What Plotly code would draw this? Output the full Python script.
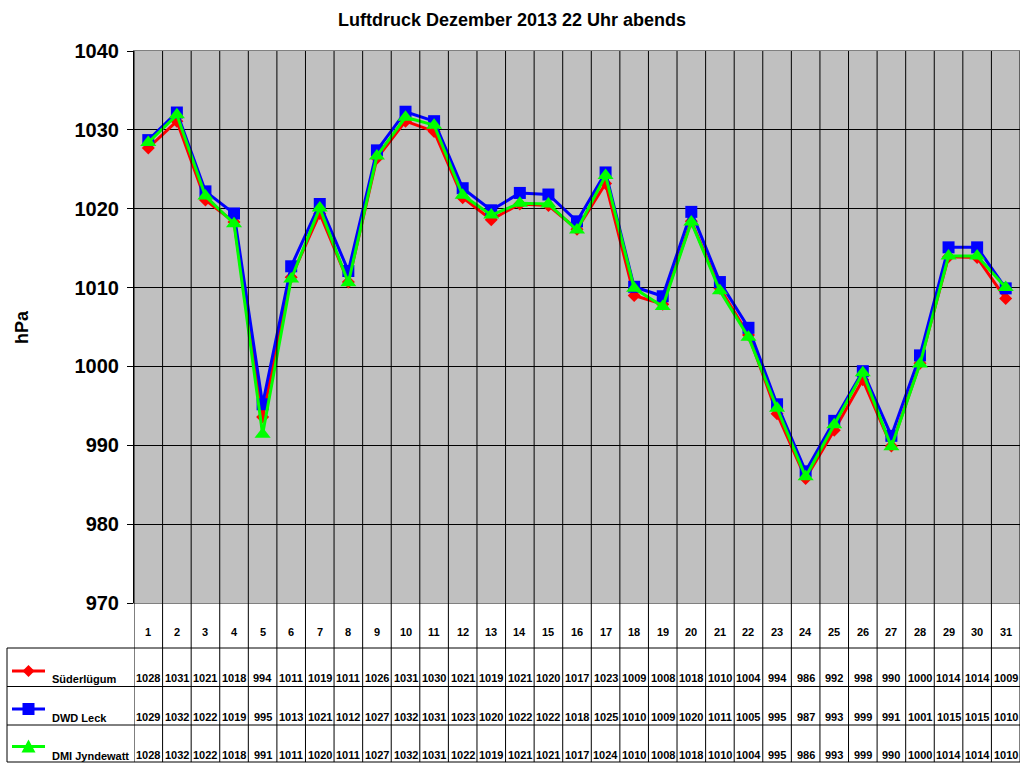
import plotly.graph_objects as go

days = list(range(1, 32))

suederluegum = [1027.7, 1031.1, 1021.1, 1018.3, 993.6, 1011.3, 1019.4, 1010.7, 1026.4, 1031.1,
                1029.8, 1021.4, 1018.6, 1020.6, 1020.4, 1017.4, 1023.2, 1009.0, 1007.9, 1018.4,
                1009.9, 1004.0, 994.0, 985.8, 991.9, 998.3, 989.9, 1000.4, 1013.9, 1013.8, 1008.6]
dwd_leck = [1028.7, 1032.2, 1022.2, 1019.4, 995.2, 1012.7, 1020.6, 1012.1, 1027.4, 1032.3,
            1031.1, 1022.6, 1019.8, 1022.0, 1021.8, 1018.4, 1024.6, 1010.1, 1008.9, 1019.6,
            1010.7, 1004.9, 995.2, 986.7, 993.1, 999.4, 991.2, 1001.4, 1015.1, 1015.1, 1009.9]
dmi_jyndewatt = [1028.4, 1031.9, 1021.6, 1018.1, 991.4, 1011.1, 1020.1, 1010.6, 1026.7, 1031.6,
                 1030.6, 1021.7, 1019.2, 1020.7, 1020.6, 1017.3, 1024.2, 1009.9, 1007.6, 1018.3,
                 1009.6, 1003.7, 994.7, 986.0, 992.6, 999.2, 989.8, 1000.3, 1014.0, 1014.0, 1010.0]

FONT = "Arial, Liberation Sans, sans-serif"

# figure geometry (pixels)
W, H = 1024, 768
L, R, T, B = 134, 4, 51, 165
PW, PH = W - L - R, H - T - B


def px_x(p):
    return (p - L) / PW


def px_y(p):
    return (H - B - p) / PH


series = [
    ("Süderlügum", suederluegum, "#FF0000", "diamond", 10),
    ("DWD Leck", dwd_leck, "#0000FF", "square", 12),
    ("DMI Jyndewatt", dmi_jyndewatt, "#00FF00", "triangle-up", 14),
]

fig = go.Figure()
for name, vals, col, sym, size in series:
    fig.add_trace(go.Scatter(
        x=days, y=vals, name=name, mode="lines+markers",
        line=dict(color=col, width=3),
        marker=dict(symbol=sym, size=size, color=col, line=dict(width=0)),
        showlegend=False, hoverinfo="skip",
    ))

shapes = []
ann = []

# table: vertical lines at column boundaries
table_bottom = px_y(762)
for k in range(len(days) + 1):
    shapes.append(dict(type="line", xref="x", yref="paper", x0=k + 0.5, x1=k + 0.5,
                       y0=table_bottom, y1=1, line=dict(color="black", width=1)))
# horizontal row lines
for p in [648, 686.5, 725, 762]:
    shapes.append(dict(type="line", xref="paper", yref="paper", x0=px_x(7), x1=1,
                       y0=px_y(p), y1=px_y(p), line=dict(color="black", width=1)))
shapes.append(dict(type="line", xref="paper", yref="paper", x0=px_x(7), x1=px_x(7),
                   y0=px_y(648), y1=table_bottom, line=dict(color="black", width=1)))

# day numbers
for d in days:
    ann.append(dict(x=d, y=px_y(632), xref="x", yref="paper", text=f"<b>{d}</b>",
                    xanchor="center", yanchor="middle",
                    showarrow=False, font=dict(size=11, color="black", family=FONT)))

row_text_y = [678, 716.5, 755]
row_line_y = [671, 709, 746.5]
for (name, vals, col, sym, size), ty, ly in zip(series, row_text_y, row_line_y):
    for d, v in zip(days, vals):
        ann.append(dict(x=d, y=px_y(ty), xref="x", yref="paper", text=f"<b>{round(v)}</b>",
                        xanchor="center", yanchor="middle",
                        showarrow=False, font=dict(size=11, color="black", family=FONT)))
    ann.append(dict(x=px_x(50), y=px_y(ty + 1), xref="paper", yref="paper", text=f"<b>{name}</b>",
                    xanchor="left", yanchor="middle",
                    showarrow=False, font=dict(size=11, color="black", family=FONT)))
    shapes.append(dict(type="line", xref="paper", yref="paper", x0=px_x(12), x1=px_x(45),
                       y0=px_y(ly), y1=px_y(ly), line=dict(color=col, width=3)))
    if sym == "diamond":
        path = "M -6 0 L 0 6 L 6 0 L 0 -6 Z"
    elif sym == "square":
        path = "M -6 -6 L 6 -6 L 6 6 L -6 6 Z"
    else:
        path = "M -7 -6 L 7 -6 L 0 7 Z"
    shapes.append(dict(type="path", xref="paper", yref="paper", xsizemode="pixel", ysizemode="pixel",
                       xanchor=px_x(28.5), yanchor=px_y(ly), path=path,
                       fillcolor=col, line=dict(width=0)))

# y axis title
ann.append(dict(x=px_x(22), y=px_y(327), xref="paper", yref="paper", text="<b>hPa</b>",
                xanchor="center", yanchor="middle",
                textangle=-90, showarrow=False, font=dict(size=18, color="black", family=FONT)))

fig.update_layout(
    width=W, height=H,
    margin=dict(l=L, r=R, t=T, b=B),
    paper_bgcolor="white", plot_bgcolor="#C0C0C0",
    font=dict(family=FONT, color="black"),
    title=dict(text="<b>Luftdruck Dezember 2013 22 Uhr abends</b>", x=0.5, xref="container",
               y=1 - 20 / H, yanchor="middle", font=dict(size=18, family=FONT, color="black")),
    xaxis=dict(range=[0.5, 31.5], showgrid=False, zeroline=False, showticklabels=False,
               ticks="", showline=True, linecolor="#808080", mirror=True),
    yaxis=dict(range=[970, 1040], dtick=10, showgrid=True, gridcolor="black", gridwidth=1,
               zeroline=False, ticks="outside", ticklen=6, tickcolor="black",
               showline=True, linecolor="black", ticklabelstandoff=4,
               tickfont=dict(size=20, family=FONT, color="black", weight="bold")),
    shapes=shapes,
    annotations=ann,
)

fig.write_html("out.html", config={"displayModeBar": False},
               post_script="document.body.style.margin='0';")
